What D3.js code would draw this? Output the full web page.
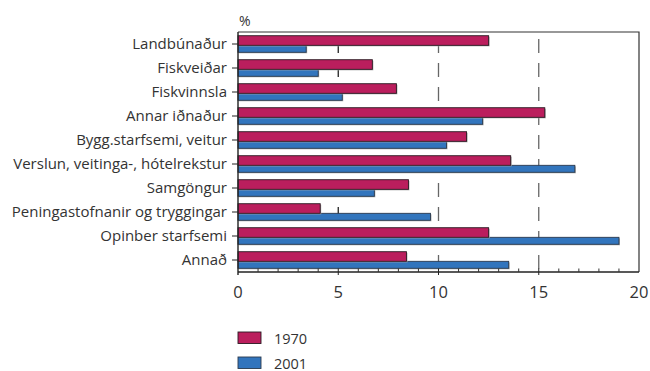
<!DOCTYPE html>
<html>
<head>
<meta charset="utf-8">
<script src="https://cdn.jsdelivr.net/npm/d3@7"></script>
<style>
  html, body { margin: 0; padding: 0; background: #fff; }
  svg { display: block; }
  text { font-family: "Open Sans", "Noto Sans", sans-serif; fill: #333; }
</style>
</head>
<body>
<svg id="chart" width="650" height="371"></svg>
<script>
// Employment share by sector, %
const categories = [
  "Landbúnaður",
  "Fiskveiðar",
  "Fiskvinnsla",
  "Annar iðnaður",
  "Bygg.starfsemi, veitur",
  "Verslun, veitinga-, hótelrekstur",
  "Samgöngur",
  "Peningastofnanir og tryggingar",
  "Opinber starfsemi",
  "Annað"
];
const values1970 = [12.5, 6.7, 7.9, 15.3, 11.4, 13.6, 8.5, 4.1, 12.5, 8.4];
const values2001 = [3.4, 4.0, 5.2, 12.2, 10.4, 16.8, 6.8, 9.6, 19.0, 13.5];
const seriesNames = ["1970", "2001"];
const xTicks = [0, 5, 10, 15, 20];
const unitLabel = "%";

const colors = { "1970": "#bb1e5d", "2001": "#3275bd" };

const svg = d3.select("#chart");
const m = { left: 238, right: 639, top: 32, bottom: 272 };

const x = d3.scaleLinear().domain([0, 20]).range([m.left, m.right]);
const y = d3.scaleBand().domain(categories).range([m.top, m.bottom]);
const bw = y.bandwidth();
const hTop = bw * 0.40, hBot = bw * 0.29;
const gOff = (bw - hTop - hBot) / 2;

// dashed reference lines
svg.append("g").selectAll("line")
  .data([5, 10, 15])
  .join("line")
  .attr("x1", d => x(d)).attr("x2", d => x(d))
  .attr("y1", m.top).attr("y2", m.bottom)
  .attr("stroke", (d, i) => i === 0 ? "#222" : "#666")
  .attr("stroke-width", 1.3)
  .attr("stroke-dasharray", "14,10")
  .attr("stroke-dashoffset", 17);

// frame top and right
svg.append("path")
  .attr("d", `M${m.left},${m.top}H${m.right}V${m.bottom}`)
  .attr("fill", "none").attr("stroke", "#333").attr("stroke-width", 1.2);

const rows = categories.map((c, i) => ({ c, a: values1970[i], b: values2001[i] }));

function drawBars(key, yOff, h, stroke) {
  const g = svg.append("g");
  g.selectAll("rect.shadow")
    .data(rows).join("rect").attr("class", "shadow")
    .attr("x", m.left + 1).attr("y", d => y(d.c) + yOff + 1)
    .attr("width", d => x(d[key]) - m.left).attr("height", h)
    .attr("fill", "#aaa");
  g.selectAll("rect.bar")
    .data(rows).join("rect").attr("class", "bar")
    .attr("x", m.left).attr("y", d => y(d.c) + yOff)
    .attr("width", d => x(d[key]) - m.left).attr("height", h)
    .attr("fill", key === "a" ? colors["1970"] : colors["2001"])
    .attr("stroke", stroke).attr("stroke-width", 0.9);
}
drawBars("b", gOff + hTop, hBot, "#2a3a4e");
drawBars("a", gOff, hTop, "#2a1a22");

// left axis
const yAxis = svg.append("g").attr("transform", `translate(${m.left},0)`)
  .call(d3.axisLeft(y).tickSize(6).tickPadding(5));
yAxis.select(".domain").attr("stroke", "#222").attr("stroke-width", 1.4)
  .attr("d", `M0,${m.top}V${m.bottom + 3}`);
yAxis.selectAll(".tick line").attr("stroke", "#222");
yAxis.selectAll(".tick text").attr("font-size", 15).attr("fill", "#333")
  .style("font-family", '"Open Sans", sans-serif');

// bottom axis: minor ticks inside, major ticks crossing
const xAxis = svg.append("g").attr("transform", `translate(0,${m.bottom})`);
xAxis.append("line").attr("x1", m.left).attr("x2", m.right)
  .attr("stroke", "#222").attr("stroke-width", 1.4);
xAxis.selectAll("line.minor")
  .data(d3.range(1, 20).filter(v => v % 5 !== 0))
  .join("line").attr("class", "minor")
  .attr("x1", d => x(d)).attr("x2", d => x(d)).attr("y1", 0).attr("y2", -3.5)
  .attr("stroke", "#333");
xAxis.selectAll("line.major")
  .data(xTicks.filter(v => v > 0 && v < 20))
  .join("line").attr("class", "major")
  .attr("x1", d => x(d)).attr("x2", d => x(d)).attr("y1", -3.5).attr("y2", 3)
  .attr("stroke", "#222");
xAxis.selectAll("text")
  .data(xTicks).join("text")
  .attr("x", d => x(d)).attr("y", 26)
  .attr("text-anchor", "middle").attr("font-size", 16.5)
  .text(d => d);

// unit label
svg.append("text").attr("x", 239).attr("y", 26).attr("font-size", 14).text(unitLabel);

// legend
const leg = svg.append("g").selectAll("g")
  .data(seriesNames).join("g")
  .attr("transform", (d, i) => `translate(238,${332 + i * 25})`);
leg.append("rect").attr("width", 23).attr("height", 11.5)
  .attr("fill", d => colors[d]).attr("stroke", (d, i) => i === 0 ? "#2a1a22" : "#2a3a4e")
  .attr("stroke-width", 0.9);
leg.append("text").attr("x", 36).attr("y", 11.5).attr("font-size", 14.5).text(d => d);
</script>
</body>
</html>
